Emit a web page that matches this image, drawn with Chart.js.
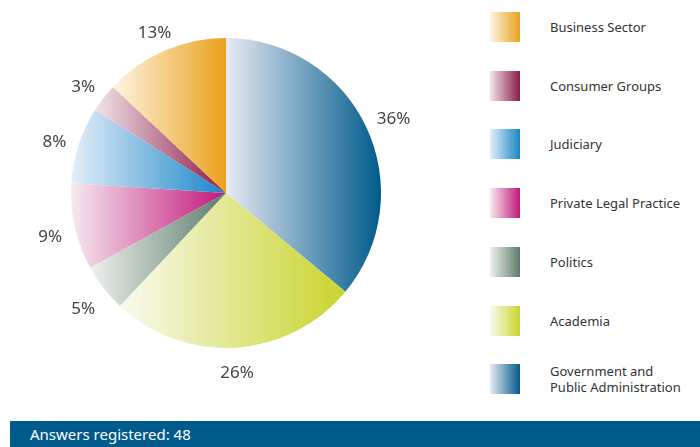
<!DOCTYPE html>
<html>
<head>
<meta charset="utf-8">
<script src="https://cdn.jsdelivr.net/npm/chart.js@4"></script>
<style>
  html, body { margin: 0; padding: 0; background: #fff; }
  #wrap { position: relative; width: 700px; height: 447px; overflow: hidden; font-family: "Noto Sans", sans-serif; }
  #pie { position: absolute; left: 0; top: 0; }
  .item { position: absolute; left: 490px; width: 210px; height: 30px; }
  .item .sw { position: absolute; left: 0; top: 0; width: 30px; height: 30px; }
  .item .txt { position: absolute; left: 60px; top: 50%; transform: translateY(-50%); font-size: 13px; line-height: 16px; color: #333; white-space: nowrap; }
  #footer { position: absolute; left: 10px; top: 421px; width: 690px; height: 26px; background: #005a8c; color: #fff; font-size: 15px; line-height: 26px; }
  #footer span { padding-left: 20px; }
</style>
</head>
<body>
<div id="wrap">
  <canvas id="pie" width="452" height="400"></canvas>
  <div id="legend"></div>
  <div id="footer"><span>Answers registered: 48</span></div>
</div>
<script>
// slices, clockwise from 12 o'clock
const categories = ['Government and\nPublic Administration', 'Academia', 'Politics', 'Private Legal Practice', 'Judiciary', 'Consumer Groups', 'Business Sector'];
const shares = [36, 26, 5, 9, 8, 3, 13];
const darkColors = ['#005a8c', '#c9d42c', '#5c7c6a', '#c2167a', '#1886c8', '#8c1a4a', '#eba11c'];
const lightColors = ['#e8ebf3', '#f9faf0', '#eef1ee', '#f6e9ef', '#e5eef8', '#f1e5e7', '#fdf4e4'];
const answers = 48;

const total = shares.reduce((a, b) => a + b, 0);

// horizontal extent of slice i, from the chart area
function sliceExtent(chart, i) {
  const ca = chart.chartArea;
  const cx = (ca.left + ca.right) / 2;
  const r = Math.min(ca.right - ca.left, ca.bottom - ca.top) / 2;
  const before = shares.slice(0, i).reduce((a, b) => a + b, 0);
  const a0 = -Math.PI / 2 + 2 * Math.PI * before / total;
  const a1 = a0 + 2 * Math.PI * shares[i] / total;
  const xs = [cx, cx + r * Math.cos(a0), cx + r * Math.cos(a1)];
  for (let k = -1; k <= 2; k++) {
    const a = k * Math.PI;
    if (a > a0 && a < a1) xs.push(cx + r * Math.cos(a));
  }
  return [Math.min(...xs), Math.max(...xs)];
}

function sliceFill(ctx) {
  const chart = ctx.chart;
  const i = ctx.dataIndex;
  if (!chart.chartArea) return darkColors[i];
  const [x0, x1] = sliceExtent(chart, i);
  const g = chart.ctx.createLinearGradient(x0, 0, x1, 0);
  g.addColorStop(0, lightColors[i]);
  g.addColorStop(1, darkColors[i]);
  return g;
}

// percentage labels outside the pie
const outsideLabels = {
  id: 'outsideLabels',
  afterDatasetsDraw(chart) {
    const c = chart.ctx;
    const meta = chart.getDatasetMeta(0);
    c.save();
    c.font = '17px "Noto Sans", sans-serif';
    c.fillStyle = '#444';
    c.textAlign = 'center';
    c.textBaseline = 'middle';
    meta.data.forEach((arc, i) => {
      const mid = (arc.startAngle + arc.endAngle) / 2;
      const txt = shares[i] + '%';
      const w = c.measureText(txt).width;
      const cos = Math.cos(mid), sin = Math.sin(mid);
      const r = arc.outerRadius + 12 + Math.abs(cos) * w / 2 + Math.abs(sin) * 7;
      c.fillText(txt, arc.x + r * cos, arc.y + r * sin + 5);
    });
    c.restore();
  }
};

new Chart(document.getElementById('pie'), {
  type: 'pie',
  data: {
    labels: categories,
    datasets: [{
      data: shares,
      backgroundColor: sliceFill,
      borderWidth: 0
    }]
  },
  options: {
    responsive: false,
    animation: false,
    layout: { padding: { left: 71, right: 71, top: 38, bottom: 52 } },
    plugins: {
      legend: { display: false },
      tooltip: { enabled: false }
    }
  },
  plugins: [outsideLabels]
});

// legend, top to bottom in reverse slice order
const legend = document.getElementById('legend');
categories.slice().reverse().forEach((name, k) => {
  const i = categories.length - 1 - k;
  const item = document.createElement('div');
  item.className = 'item';
  item.style.top = (12 + k * 58.7) + 'px';
  const sw = document.createElement('div');
  sw.className = 'sw';
  sw.style.background = `linear-gradient(to right, ${lightColors[i]}, ${darkColors[i]})`;
  const txt = document.createElement('div');
  txt.className = 'txt';
  txt.innerHTML = name.replace('\n', '<br>');
  item.appendChild(sw);
  item.appendChild(txt);
  legend.appendChild(item);
});

document.querySelector('#footer span').textContent = 'Answers registered: ' + answers;
</script>
</body>
</html>
